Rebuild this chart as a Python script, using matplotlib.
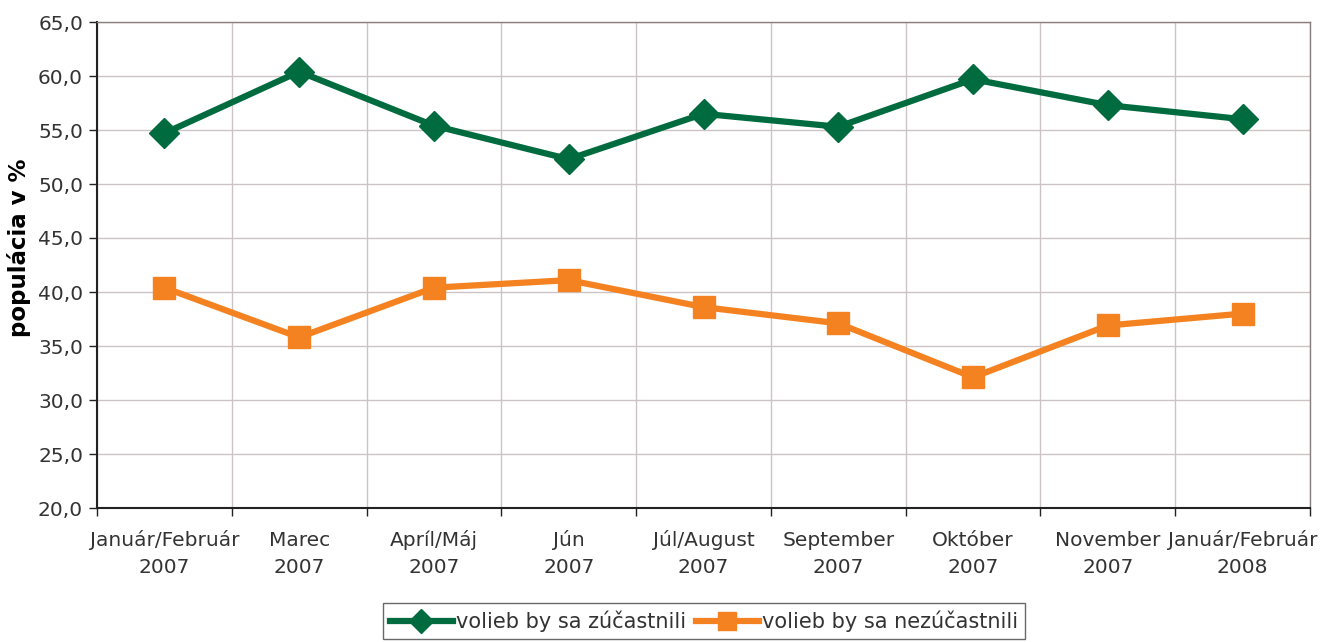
import matplotlib
matplotlib.use('Agg')
import matplotlib.pyplot as plt
import numpy as np

# Data
categories = ['Január/Február\n2007', 'Marec\n2007', 'Apríl/Máj\n2007', 'Jún\n2007',
              'Júl/August\n2007', 'September\n2007', 'Október\n2007', 'November\n2007',
              'Január/Február\n2008']
zucastnili = [54.7, 60.4, 55.4, 52.3, 56.5, 55.3, 59.7, 57.3, 56.0]
nezucastnili = [40.4, 35.8, 40.4, 41.1, 38.6, 37.1, 32.1, 36.9, 38.0]

green = '#006B3F'
orange = '#F58220'
grid_col = '#CCC4C4'
text_col = '#333333'

fig = plt.figure(figsize=(13.38, 6.42), dpi=100)
ax = fig.add_axes([97/1338, 1 - 508/642, (1310-97)/1338, (508-22)/642])

x = np.arange(len(categories))
ax.plot(x, zucastnili, color=green, linewidth=4.5, marker='D', markersize=15.5,
        label='volieb by sa zúčastnili', zorder=3)
ax.plot(x, nezucastnili, color=orange, linewidth=4.5, marker='s', markersize=15.5,
        label='volieb by sa nezúčastnili', zorder=3)

ax.set_xlim(-0.5, len(categories) - 0.5)
ax.set_ylim(20, 65)
ax.set_yticks(np.arange(20, 66, 5))
ax.set_yticklabels([f'{v:.1f}'.replace('.', ',') for v in np.arange(20, 66, 5)])

# category labels centred, ticks/grid at boundaries
ax.set_xticks(np.arange(-0.5, len(categories), 1))
ax.set_xticklabels([])
ax.set_xticks(x, minor=True)
ax.set_xticklabels(categories, minor=True, linespacing=1.57, va='baseline')
ax.tick_params(axis='x', which='minor', length=0, pad=47, labelsize=14.5, colors=text_col)
ax.tick_params(axis='x', which='major', length=6, width=1, color='#222222')
ax.tick_params(axis='y', length=6, width=1, color='#222222', labelsize=14.5,
               labelcolor=text_col, pad=4)

ax.grid(True, which='major', color=grid_col, linewidth=1)
ax.set_axisbelow(True)

for side in ['top', 'right']:
    ax.spines[side].set_color('#8A7F7F')
    ax.spines[side].set_linewidth(1)
ax.spines['left'].set_color('#222222')
ax.spines['bottom'].set_color('#222222')
ax.spines['left'].set_linewidth(1.5)
ax.spines['bottom'].set_linewidth(1.5)

ax.set_ylabel('populácia v %', fontsize=16.5, fontweight='bold', color='black')
ax.yaxis.set_label_coords(-0.054, 0.535)

leg = fig.legend(loc='lower center', bbox_to_anchor=(704/1338, -0.012), ncol=2,
                 fontsize=15, frameon=True, fancybox=False, handlelength=3.0,
                 handletextpad=0.15, columnspacing=0.5, borderpad=0.35,
                 markerscale=0.8)
leg.get_frame().set_edgecolor('#444444')
leg.get_frame().set_linewidth(1)
for t in leg.get_texts():
    t.set_color(text_col)

fig.savefig('out.png', dpi=100)
